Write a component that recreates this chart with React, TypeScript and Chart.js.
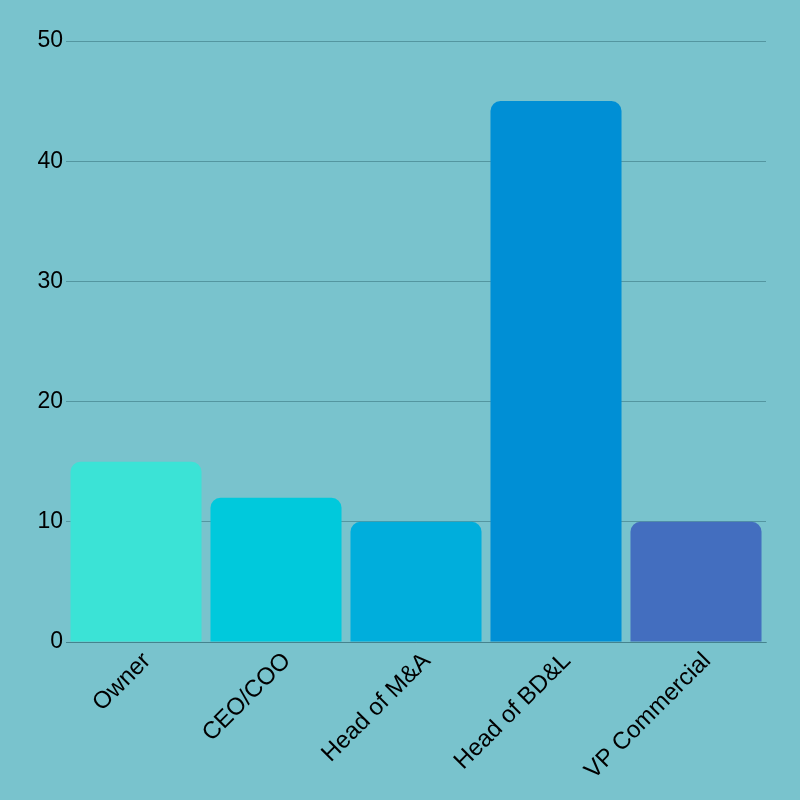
import React, { useEffect, useRef } from "react";
import { Chart, registerables } from "chart.js";

Chart.register(...registerables);

const categories = ["Owner", "CEO/COO", "Head of M&A", "Head of BD&L", "VP Commercial"];
const values = [15, 12, 10, 45, 10];
const barColors = ["#3BE3D6", "#00C9DC", "#00AEDC", "#008FD5", "#436EBF"];
const yTicks = [0, 10, 20, 30, 40, 50];

export default function App() {
  const ref = useRef<HTMLCanvasElement>(null);
  useEffect(() => {
    document.body.style.margin = "0";
    document.body.style.background = "#79C3CD";
    const ctx = ref.current!;
    const chart = new Chart(ctx, {
      type: "bar",
      data: {
        labels: categories,
        datasets: [
          {
            data: values,
            backgroundColor: barColors,
            borderRadius: 10,
            borderSkipped: "start",
            barPercentage: 0.936,
            categoryPercentage: 1,
          },
        ],
      },
      options: {
        animation: false,
        responsive: false,
        maintainAspectRatio: false,
        layout: { padding: { top: 41, right: 34, left: 0, bottom: 0 } },
        plugins: { legend: { display: false }, tooltip: { enabled: false } },
        scales: {
          x: {
            grid: { display: false, drawTicks: false },
            border: { display: true, color: "rgba(60,120,130,0.6)", width: 1 },
            ticks: {
              color: "#000",
              font: { family: "Liberation Sans", size: 24 },
              maxRotation: 45,
              minRotation: 45,
              padding: 5,
              labelOffset: 11,
              autoSkip: false,
            },
            afterFit: (s: any) => {
              s.height = 158;
            },
          },
          y: {
            min: 0,
            max: 50,
            afterBuildTicks: (s: any) => {
              s.ticks = yTicks.map((v) => ({ value: v }));
            },
            grid: { color: "rgba(60,120,130,0.6)", drawTicks: false, lineWidth: 1 },
            border: { display: false },
            ticks: {
              color: "#000",
              font: { family: "Liberation Sans", size: 23 },
              padding: 3,
            },
            afterFit: (s: any) => {
              s.width = 66;
            },
          },
        },
      },
    });
    return () => chart.destroy();
  }, []);
  return (
    <div style={{ width: 800, height: 800, background: "#79C3CD" }}>
      <canvas ref={ref} width={800} height={800} style={{ display: "block" }} />
    </div>
  );
}
